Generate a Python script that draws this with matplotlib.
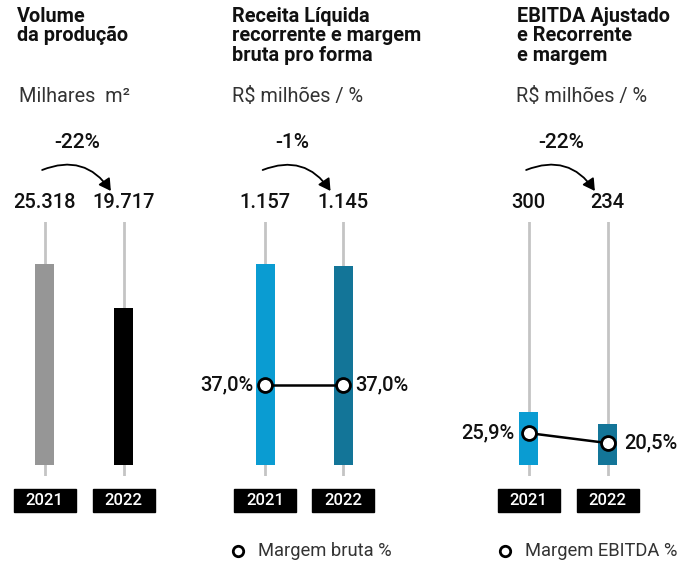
import matplotlib
matplotlib.use("Agg")
import matplotlib.pyplot as plt
from matplotlib.patches import Rectangle, FancyArrowPatch

plt.rcParams['font.family'] = ['Roboto', 'DejaVu Sans']

W, H = 678, 564

years = ["2021", "2022"]

titles = ["Volume\nda produção",
          "Receita Líquida\nrecorrente e margem\nbruta pro forma",
          "EBITDA Ajustado\ne Recorrente\ne margem"]
units = ["Milhares  m²", "R$ milhões / %", "R$ milhões / %"]

volume = [25318, 19717]
volume_labels = ["25.318", "19.717"]
receita = [1157, 1145]
receita_labels = ["1.157", "1.145"]
ebitda = [300, 234]
ebitda_labels = ["300", "234"]
changes = ["-22%", "-1%", "-22%"]

margem_bruta = [37.0, 37.0]
margem_bruta_labels = ["37,0%", "37,0%"]
margem_ebitda = [25.9, 20.5]
margem_ebitda_labels = ["25,9%", "20,5%"]
legend_labels = [None, "Margem bruta %", "Margem EBITDA %"]

colors = [["#969696", "#000000"], ["#0A9CD2", "#137598"], ["#0A9CD2", "#137598"]]

values = [volume, receita, ebitda]
value_labels = [volume_labels, receita_labels, ebitda_labels]
margins = [None, margem_bruta, margem_ebitda]
margin_labels = [None, margem_bruta_labels, margem_ebitda_labels]

# layout in pixels (panel first bar center, bar spacing)
centers = [44.5, 265, 528.5]
spacing = [79, 78, 79]
ax_top, ax_bot, base = 222, 476, 464.5
bar_top_px = [264, 264, 412]   # pixel top of first bar per panel
twin_lims = [None, (0, 103.3), (2.7, 139.9)]
change_x = [0.41, 0.35, 0.42]
title_x = [17, 232, 517]
unit_x = [19, 232, 516]
legend_mx = [None, 238, 505]

fig = plt.figure(figsize=(W / 100, H / 100), dpi=100)

for i in range(3):
    c0, sp = centers[i], spacing[i]
    left = c0 - 0.5 * sp
    ax = fig.add_axes([left / W, (H - ax_bot) / H, 2 * sp / W, (ax_bot - ax_top) / H])
    ax.set_xlim(-0.5, 1.5)
    per_px = values[i][0] / (base - bar_top_px[i])
    ax.set_ylim(-(ax_bot - base) * per_px, (base - ax_top) * per_px)
    ax.axis('off')

    xs = [0, 1]
    for x in xs:
        ax.axvline(x, color="#c4c4c4", lw=2, zorder=0)
    ax.bar(xs, values[i], width=19 / sp, color=colors[i], zorder=2)

    tr = ax.get_xaxis_transform()
    for x, lab in zip(xs, value_labels[i]):
        ax.text(x, (ax_bot - 203) / (ax_bot - ax_top), lab, transform=tr, ha='center', va='center',
                fontsize=14.5, fontweight='medium', color='#111111')
        # year box
        bw = 62 / sp
        ax.add_patch(Rectangle((x - bw / 2, (ax_bot - 512) / (ax_bot - ax_top)), bw, 23 / (ax_bot - ax_top),
                               transform=tr, color='black', clip_on=False))
        ax.text(x, (ax_bot - 500.5) / (ax_bot - ax_top), years[x], transform=tr, ha='center', va='center',
                fontsize=12, fontweight='medium', color='white')

    ax.text(change_x[i], (ax_bot - 143) / (ax_bot - ax_top), changes[i], transform=tr, ha='center',
            va='center', fontsize=15, fontweight='medium', color='#111111')
    arr = FancyArrowPatch((-0.03, (ax_bot - 170) / (ax_bot - ax_top)),
                          (0.84, (ax_bot - 191) / (ax_bot - ax_top)),
                          transform=tr, connectionstyle="arc3,rad=-0.4",
                          arrowstyle="-|>,head_length=7,head_width=4", lw=1.3, color='black',
                          clip_on=False, shrinkA=0, shrinkB=0)
    ax.add_patch(arr)

    fig.text(title_x[i] / W, 1 - 7 / H, titles[i], ha='left', va='top', fontsize=14.3,
             fontweight='bold', color='#111111', linespacing=1.02)
    fig.text(unit_x[i] / W, 1 - 97 / H, units[i], ha='left', va='center', fontsize=14.3,
             fontweight='normal', color='#333333')

    if margins[i] is not None:
        ax2 = ax.twinx()
        ax2.set_ylim(*twin_lims[i])
        ax2.axis('off')
        ax2.plot(xs, margins[i], color='black', lw=1.8, marker='o', markersize=10,
                 markerfacecolor='white', markeredgecolor='black', markeredgewidth=2, zorder=3)
        offs = [(-8, 0), (9, 0)] if i == 1 else [(-10, 0), (12, 0)]
        for x, m, lab, off in zip(xs, margins[i], margin_labels[i], offs):
            ax2.annotate(lab, (x, m), xytext=off, textcoords='offset points',
                         ha='right' if off[0] < 0 else 'left', va='center',
                         fontsize=14.5, fontweight='medium', color='#111111')
        # legend
        lx = (legend_mx[i] - c0) / sp
        ly = (ax_bot - 551) / (ax_bot - ax_top)
        ax.plot([lx], [ly], transform=tr, marker='o', markersize=7.5, markerfacecolor='white',
                markeredgecolor='black', markeredgewidth=2, clip_on=False, linestyle='none')
        ax.text(lx + 20 / sp, ly, legend_labels[i], transform=tr, ha='left', va='center',
                fontsize=13.2, fontweight='normal', color='#333333')

fig.savefig("out.png", dpi=100)
